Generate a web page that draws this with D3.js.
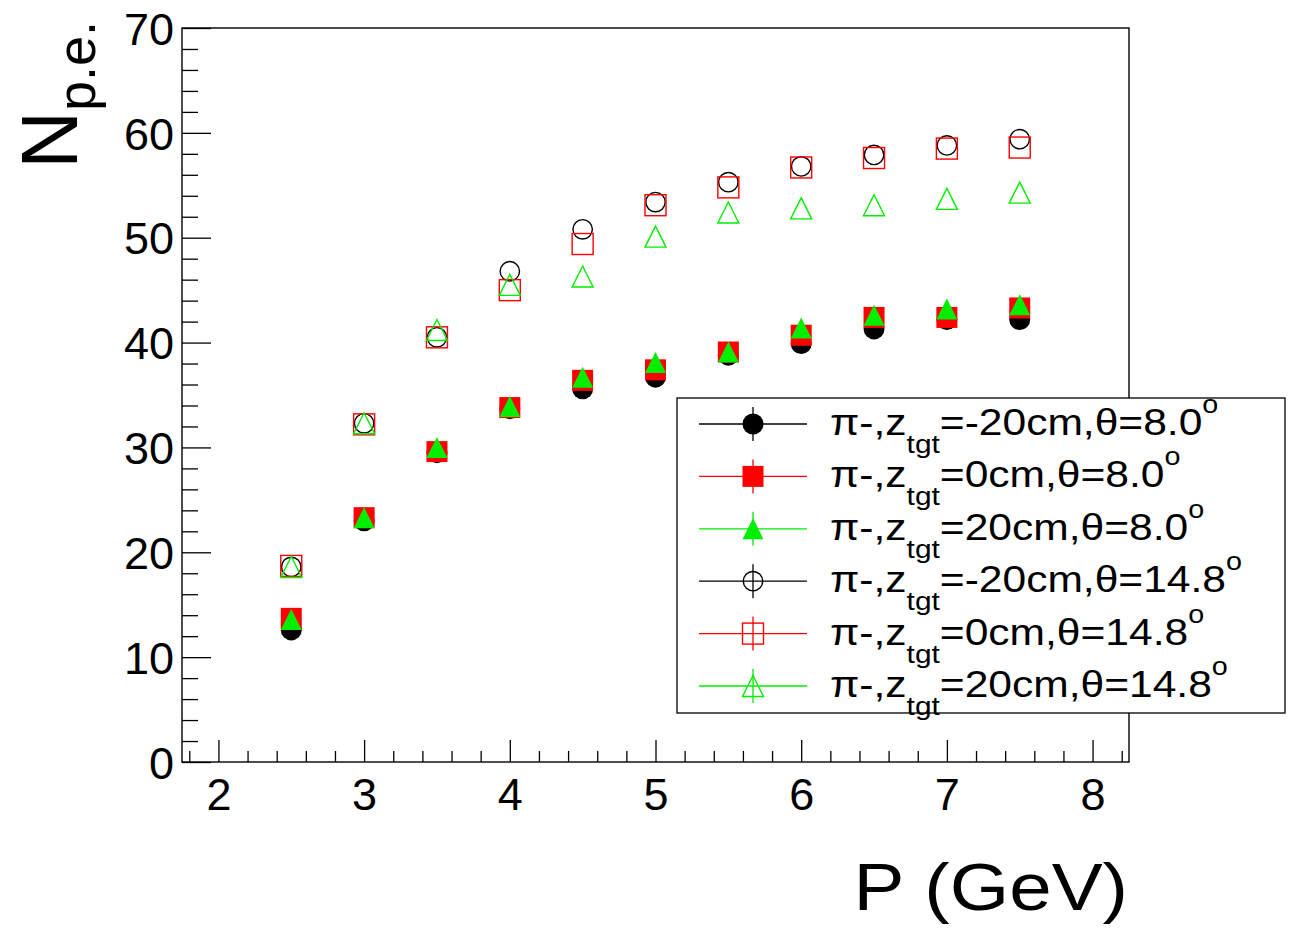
<!DOCTYPE html>
<html>
<head>
  <meta charset="utf8">
  <title>Npe vs P</title>
  <script src="https://d3js.org/d3.v7.min.js"></script>
  <style>
    body { margin: 0; background: #fff; }
    text { font-family: "Liberation Sans", Arial, sans-serif; }
  </style>
</head>
<body>
<script>
  // momentum points (GeV)
  var pValues = [2.5, 3, 3.5, 4, 4.5, 5, 5.5, 6, 6.5, 7, 7.5];

  // N p.e. for each setting
  var npeM20Th8  = [12.6, 23.0, 29.5, 33.7, 35.6, 36.7, 38.8, 39.9, 41.3, 42.2, 42.2];
  var npe0Th8    = [13.7, 23.3, 29.6, 33.8, 36.4, 37.4, 39.1, 40.7, 42.4, 42.4, 43.3];
  var npeP20Th8  = [13.6, 23.3, 30.0, 33.9, 36.7, 38.1, 39.1, 41.4, 42.6, 43.2, 43.6];
  var npeM20Th14 = [18.6, 32.3, 40.5, 46.8, 50.8, 53.4, 55.3, 56.8, 57.9, 58.8, 59.4];
  var npe0Th14   = [18.7, 32.2, 40.5, 45.0, 49.4, 53.1, 54.8, 56.7, 57.6, 58.5, 58.6];
  var npeP20Th14 = [18.6, 32.3, 41.2, 45.5, 46.3, 50.1, 52.4, 52.8, 53.1, 53.7, 54.3];

  var zLabels = ["-20cm", "0cm", "20cm", "-20cm", "0cm", "20cm"];
  var thetaLabels = ["8.0", "8.0", "8.0", "14.8", "14.8", "14.8"];

  var xTicks = [2, 3, 4, 5, 6, 7, 8];
  var yTicks = [0, 10, 20, 30, 40, 50, 60, 70];

  var series = [
    { values: npeM20Th8,  color: "#000000", shape: "circle",   filled: true },
    { values: npe0Th8,    color: "#ff0000", shape: "square",   filled: true },
    { values: npeP20Th8,  color: "#00ee00", shape: "triangle", filled: true },
    { values: npeM20Th14, color: "#000000", shape: "circle",   filled: false },
    { values: npe0Th14,   color: "#ff0000", shape: "square",   filled: false },
    { values: npeP20Th14, color: "#00ee00", shape: "triangle", filled: false }
  ];

  var width = 1289, height = 934;
  var svg = d3.select("body").append("svg")
      .attr("width", width)
      .attr("height", height);

  var x = d3.scaleLinear().domain([1.75, 8.25]).range([182, 1129]),
      y = d3.scaleLinear().domain([0, 70]).range([762, 28]);

  // minor ticks
  var xMinor = d3.range(1.8, 8.25, 0.2).map(function(d){ return +d.toFixed(1); })
                 .filter(function(d){ return Math.abs(d - Math.round(d)) > 0.01; });
  var yMinor = d3.range(2, 70, 2).filter(function(d){ return d % 10 != 0; });

  // x axis: minor and major ticks in separate groups
  svg.append("g").attr("class", "xminor").attr("transform", "translate(0,762)")
     .call(d3.axisBottom(x).tickValues(xMinor).tickSize(-11).tickFormat(""));
  var gx = svg.append("g").attr("class", "xmajor").attr("transform", "translate(0,762)")
     .call(d3.axisBottom(x).tickValues(xTicks).tickSize(-22).tickFormat(d3.format("d")));
  gx.selectAll("text")
    .attr("fill", "#000")
    .attr("font-size", 45)
    .attr("y", 48)
    .attr("dy", null);

  svg.append("g").attr("class", "yminor").attr("transform", "translate(182,0)")
     .call(d3.axisLeft(y).tickValues(yMinor).tickSize(-16).tickFormat(""));
  var gy = svg.append("g").attr("class", "ymajor").attr("transform", "translate(182,0)")
     .call(d3.axisLeft(y).tickValues(yTicks).tickSize(-29).tickFormat(d3.format("d")));
  gy.selectAll("text")
    .attr("fill", "#000")
    .attr("font-size", 45)
    .attr("x", -8)
    .attr("dy", "0.36em");

  svg.selectAll(".domain").remove();
  svg.selectAll(".tick line").attr("stroke", "#000").attr("stroke-width", 1.3);

  // frame
  svg.append("rect")
    .attr("x", x.range()[0]).attr("y", y.range()[1])
    .attr("width", x.range()[1] - x.range()[0])
    .attr("height", y.range()[0] - y.range()[1])
    .attr("fill", "none")
    .attr("stroke", "#000")
    .attr("stroke-width", 1.4);

  // axis titles
  svg.append("text")
    .attr("transform", "translate(1128,910) scale(1.14,1)")
    .attr("text-anchor", "end")
    .attr("font-size", 67)
    .text("P (GeV)");

  var yt = svg.append("text")
    .attr("transform", "translate(77,21) rotate(-90)")
    .attr("text-anchor", "end")
    .attr("font-size", 80);
  yt.append("tspan").text("N");
  yt.append("tspan").attr("font-size", 54).attr("dy", 18).text("p.e.");

  function drawMarker(g, s, cx, cy) {
    var r = 10.5, m;
    if (s.shape == "circle") {
      m = g.append("circle").attr("cx", cx).attr("cy", cy).attr("r", s.filled ? r : r - 0.8);
    } else if (s.shape == "square") {
      m = g.append("rect").attr("x", cx - r).attr("y", cy - r).attr("width", 2 * r).attr("height", 2 * r);
    } else {
      m = g.append("path")
        .attr("d", "M" + cx + "," + (cy - r) + "L" + (cx + r) + "," + (cy + r) + "L" + (cx - r) + "," + (cy + r) + "Z");
    }
    if (s.filled) {
      m.attr("fill", s.color).attr("stroke", "none");
    } else {
      m.attr("fill", "none").attr("stroke", s.color).attr("stroke-width", 1.4);
    }
  }

  // points
  var pts = svg.append("g");
  series.forEach(function(s){
    s.values.forEach(function(v, i){
      drawMarker(pts, s, x(pValues[i]), y(v));
    });
  });

  // legend
  var lg = svg.append("g");
  lg.append("rect")
    .attr("x", 677).attr("y", 398)
    .attr("width", 608).attr("height", 315)
    .attr("fill", "#fff")
    .attr("stroke", "#000")
    .attr("stroke-width", 1.3);

  series.forEach(function(s, i){
    var cy = 424 + i * 52.4;
    lg.append("line")
      .attr("x1", 699).attr("x2", 807).attr("y1", cy).attr("y2", cy)
      .attr("stroke", s.color).attr("stroke-width", 1.3);
    lg.append("line")
      .attr("x1", 753).attr("x2", 753).attr("y1", cy - 17).attr("y2", cy + 17)
      .attr("stroke", s.color).attr("stroke-width", 1.3);
    drawMarker(lg, s, 753, cy);

    var t = lg.append("text")
      .attr("transform", "translate(830," + (cy + 11) + ") scale(1.15,1)")
      .attr("font-size", 37)
      .attr("fill", "#000");
    t.append("tspan").text("\u03c0-,z");
    t.append("tspan").attr("font-size", 26).attr("dy", 18).text("tgt");
    t.append("tspan").attr("dy", -18).text("=" + zLabels[i] + ",\u03b8=" + thetaLabels[i]);
    t.append("tspan").attr("font-size", 25).attr("dy", -22).text("o");
  });
</script>
</body>
</html>
